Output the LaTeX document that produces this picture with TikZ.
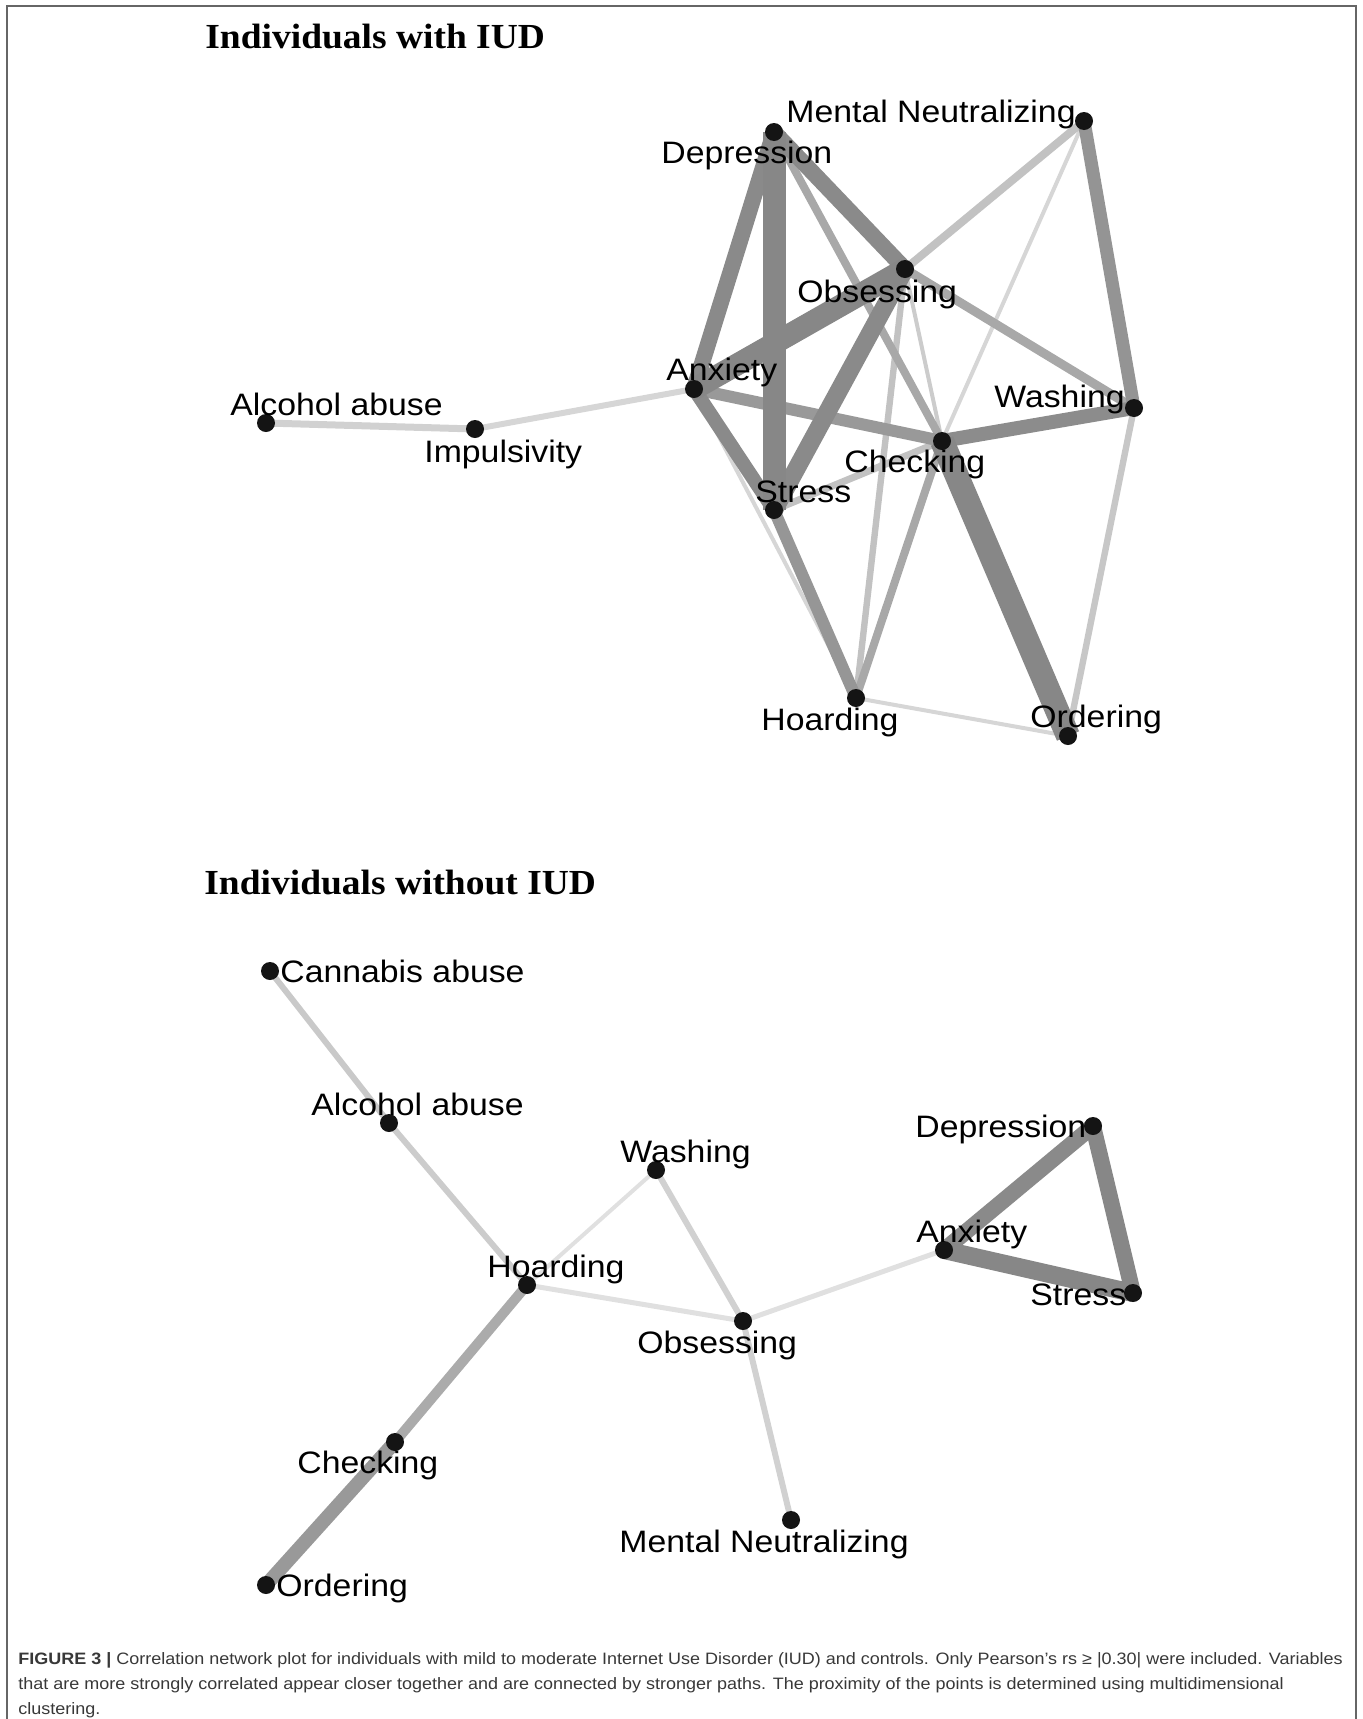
\documentclass[tikz,border=0pt]{standalone}
\usepackage{fontspec}
\setmainfont{Liberation Sans}
\newfontfamily\lblfont[FakeStretch=1.09]{Liberation Sans}
\newfontfamily\hdfont[FakeStretch=1.065]{Liberation Serif}
\usetikzlibrary{backgrounds}

\begin{document}
\begin{tikzpicture}[
  x=0.5pt, y=-0.5pt,
  dot/.style={circle, fill=black!92, inner sep=0pt, minimum size=9pt},
  lbl/.style={anchor=base west, inner sep=0pt, font=\lblfont\fontsize{15.5}{18}\selectfont},
  hd/.style={anchor=base west, inner sep=0pt, font=\hdfont\bfseries\fontsize{17.6}{20}\selectfont},
  capbox/.style={anchor=north west, inner sep=0pt, align=left, text=black!78, font=\lblfont\fontsize{8.25}{12.5}\selectfont},
  vstrong/.style={line width=11.5pt, draw=black!47},
  strong/.style={line width=8pt, draw=black!46},
  mid/.style={line width=6.5pt, draw=black!43},
  med/.style={line width=4pt, draw=black!34},
  light/.style={line width=3.2pt, draw=black!24},
  faint/.style={line width=2pt, draw=black!16},
]
\useasboundingbox (0,0) rectangle (1363,1719);
\draw[black!60, line width=1pt] (7,1719) -- (7,6) -- (1356,6) -- (1356,1719);

% with IUD
\node[hd] (hwith) at (205,48) {Individuals with IUD};
\node[dot] (wdep) at (774,132) {};
\node[dot] (wmn) at (1084,121) {};
\node[dot] (wobs) at (905,269) {};
\node[dot] (wanx) at (694,389) {};
\node[dot] (wwash) at (1134,408) {};
\node[dot] (wchk) at (942,441) {};
\node[dot] (wstr) at (774,510) {};
\node[dot] (whoard) at (856,698) {};
\node[dot] (word) at (1068,736) {};
\node[dot] (walc) at (266,423) {};
\node[dot] (wimp) at (475,429) {};

\node[lbl] (wmn-l) at (786,122) {Mental Neutralizing};
\node[lbl] (wdep-l) at (661,163) {Depression};
\node[lbl] (wobs-l) at (797,302) {Obsessing};
\node[lbl] (wanx-l) at (666,380) {Anxiety};
\node[lbl] (wwash-l) at (994,407) {Washing};
\node[lbl] (wchk-l) at (844,472) {Checking};
\node[lbl] (wstr-l) at (755,502) {Stress};
\node[lbl] (whoard-l) at (761,730) {Hoarding};
\node[lbl] (word-l) at (1030,727) {Ordering};
\node[lbl] (walc-l) at (230,415) {Alcohol abuse};
\node[lbl] (wimp-l) at (424,462) {Impulsivity};

\begin{scope}[on background layer]
\draw[faint] (whoard.center) -- (word.center);
\draw[faint] (wanx.center) -- (whoard.center);
\draw[faint] (wmn.center) -- (wchk.center);
\draw[faint, draw=black!20] (wobs.center) -- (wchk.center);
\draw[faint, line width=3pt] (wimp.center) -- (wanx.center);
\draw[light, draw=black!18, line width=3.5pt] (walc.center) -- (wimp.center);
\draw[light, draw=black!22] (wwash.center) -- (word.center);
\draw[light] (wobs.center) -- (whoard.center);
\draw[light, line width=3.5pt] (wchk.center) -- (wstr.center);
\draw[light, line width=4pt] (wobs.center) -- (wmn.center);
\draw[med] (wchk.center) -- (whoard.center);
\draw[med, line width=4.5pt] (wobs.center) -- (wwash.center);
\draw[med] (wdep.center) -- (wchk.center);
\draw[mid, line width=6pt, draw=black!41] (wstr.center) -- (whoard.center);
\draw[mid, line width=6pt, draw=black!40] (wanx.center) -- (wchk.center);
\draw[mid, draw=black!42] (wmn.center) -- (wwash.center);
\draw[mid, line width=7pt, draw=black!45] (wwash.center) -- (wchk.center);
\draw[strong, line width=7pt] (wanx.center) -- (wstr.center);
\draw[strong, line width=9pt] (wobs.center) -- (wstr.center);
\draw[strong] (wdep.center) -- (wobs.center);
\draw[strong] (wdep.center) -- (wanx.center);
\draw[vstrong, line width=11pt] (wobs.center) -- (wanx.center);
\draw[vstrong] (wdep.center) -- (wstr.center);
\draw[vstrong, line width=12pt] (wchk.center) -- (word.center);
\end{scope}

% without IUD
\node[hd] (hwithout) at (204,894) {Individuals without IUD};
\node[dot] (ncan) at (270,971) {};
\node[dot] (nalc) at (389,1123) {};
\node[dot] (nwash) at (656,1170) {};
\node[dot] (nhoard) at (527,1285) {};
\node[dot] (nobs) at (743,1321) {};
\node[dot] (ndep) at (1093,1126) {};
\node[dot] (nanx) at (944,1250) {};
\node[dot] (nstr) at (1133,1293) {};
\node[dot] (nmn) at (791,1520) {};
\node[dot] (nchk) at (395,1442) {};
\node[dot] (nord) at (266,1585) {};

\node[lbl] (ncan-l) at (280,982) {Cannabis abuse};
\node[lbl] (nalc-l) at (311,1115) {Alcohol abuse};
\node[lbl] (nwash-l) at (620,1162) {Washing};
\node[lbl] (nhoard-l) at (487,1277) {Hoarding};
\node[lbl] (nobs-l) at (637,1353) {Obsessing};
\node[lbl] (ndep-l) at (915,1137) {Depression};
\node[lbl] (nanx-l) at (916,1242) {Anxiety};
\node[lbl] (nstr-l) at (1030,1305) {Stress};
\node[lbl] (nmn-l) at (619,1552) {Mental Neutralizing};
\node[lbl] (nchk-l) at (297,1473) {Checking};
\node[lbl] (nord-l) at (276,1596) {Ordering};

\begin{scope}[on background layer]
\draw[faint, draw=black!12] (nhoard.center) -- (nwash.center);
\draw[faint, draw=black!12, line width=2.5pt] (nhoard.center) -- (nobs.center);
\draw[faint, draw=black!12, line width=2.5pt] (nobs.center) -- (nanx.center);
\draw[light, draw=black!18, line width=3pt] (nwash.center) -- (nobs.center);
\draw[light, draw=black!18, line width=3pt] (nobs.center) -- (nmn.center);
\draw[light, draw=black!21, line width=3pt] (ncan.center) -- (nalc.center);
\draw[light, draw=black!20, line width=3pt] (nalc.center) -- (nhoard.center);
\draw[med, line width=5pt, draw=black!33] (nhoard.center) -- (nchk.center);
\draw[mid, line width=7pt, draw=black!40] (nchk.center) -- (nord.center);
\draw[strong] (ndep.center) -- (nanx.center);
\draw[strong, draw=black!47] (ndep.center) -- (nstr.center);
\draw[strong, line width=9pt, draw=black!47] (nanx.center) -- (nstr.center);
\end{scope}

% caption
\node[capbox] (cap) at (18,1652) {\textbf{FIGURE 3 |} Correlation network plot for individuals with mild to moderate Internet Use Disorder (IUD) and controls. Only Pearson’s rs ≥ |0.30| were included. Variables\\
that are more strongly correlated appear closer together and are connected by stronger paths. The proximity of the points is determined using multidimensional\\
clustering.};
\end{tikzpicture}
\end{document}
